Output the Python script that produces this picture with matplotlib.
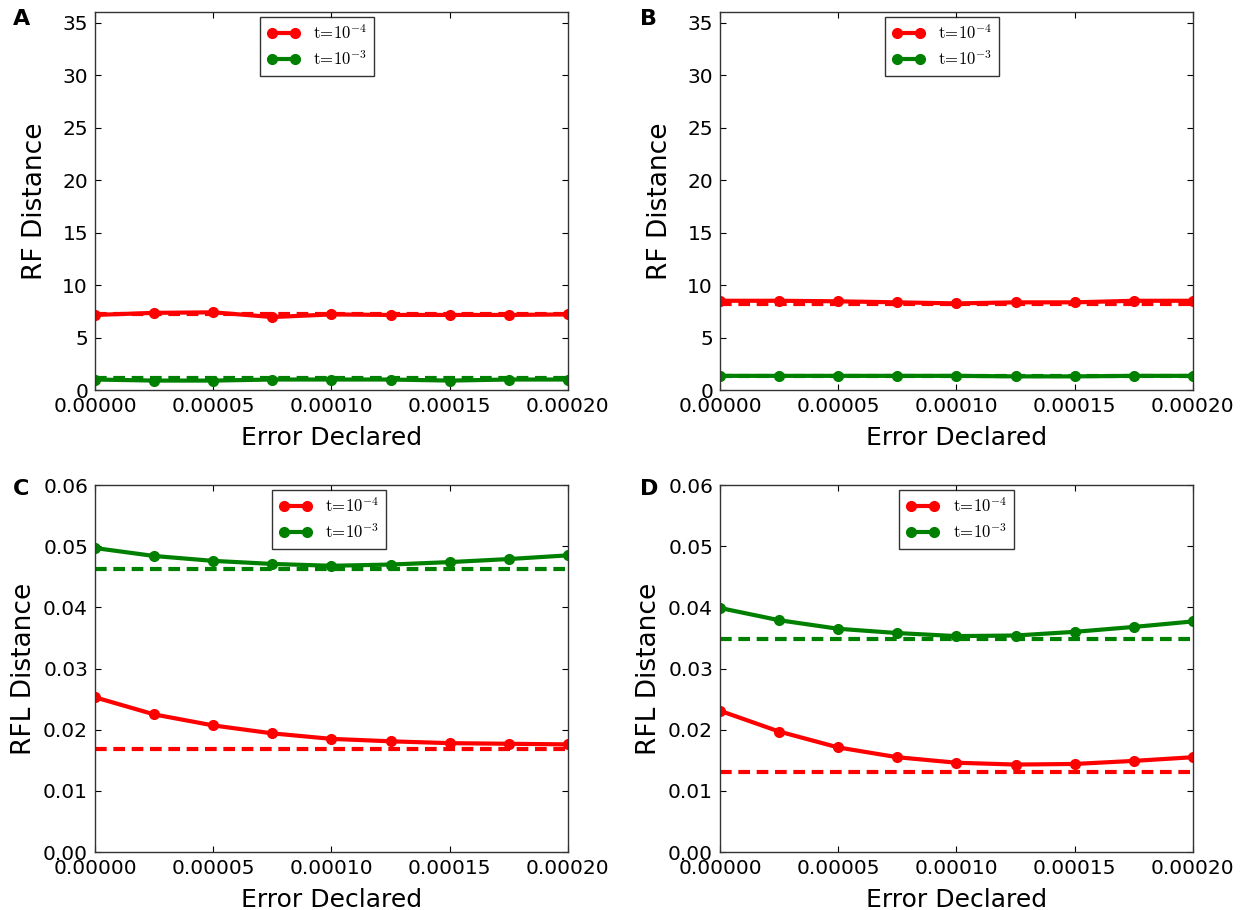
#! /usr/bin/env python3
import matplotlib as mpl
import matplotlib.pyplot as plt
from matplotlib.ticker import FormatStrFormatter

mpl.rcParams.update({
    'font.family': 'DejaVu Sans',
    'mathtext.fontset': 'cm',
    'xtick.direction': 'in',
    'ytick.direction': 'in',
    'xtick.top': True,
    'ytick.right': True,
    'xtick.major.size': 4,
    'ytick.major.size': 4,
    'xtick.labelsize': 14.5,
    'ytick.labelsize': 14.5,
    'axes.labelsize': 18,
    'axes.linewidth': 1.0,
    'axes.edgecolor': '#333333',
    'legend.fancybox': False,
    'legend.numpoints': 2,
    'legend.fontsize': 12,
})

# declared error (x axis), shared by all panels
errors = [0, 0.000025, 0.00005, 0.000075, 0.0001, 0.000125, 0.00015, 0.000175, 0.0002]

# A: RF distance
rf_a_t4 = [7.15, 7.35, 7.4, 6.95, 7.2, 7.15, 7.15, 7.15, 7.2]
rf_a_t3 = [1.0, 0.9, 0.9, 1.0, 1.0, 1.0, 0.9, 1.0, 1.0]
rf_a_base = [7.2, 1.1]

# B: RF distance
rf_b_t4 = [8.5, 8.5, 8.45, 8.35, 8.25, 8.35, 8.35, 8.5, 8.5]
rf_b_t3 = [1.35, 1.35, 1.35, 1.35, 1.35, 1.3, 1.3, 1.35, 1.35]
rf_b_base = [8.15, 1.3]

# C: RFL distance
rfl_c_t4 = [0.0253, 0.0225, 0.0207, 0.0194, 0.0185, 0.0181, 0.0178, 0.0177, 0.0176]
rfl_c_t3 = [0.0497, 0.0484, 0.0476, 0.0471, 0.0468, 0.0470, 0.0474, 0.0479, 0.0485]
rfl_c_base = [0.0169, 0.0462]

# D: RFL distance
rfl_d_t4 = [0.0231, 0.0197, 0.0171, 0.0155, 0.0146, 0.0143, 0.0144, 0.0149, 0.0155]
rfl_d_t3 = [0.0399, 0.0379, 0.0365, 0.0358, 0.0353, 0.0354, 0.0360, 0.0368, 0.0377]
rfl_d_base = [0.0131, 0.0349]

labels = [r'$\mathrm{t\!=\!10^{-4}}$', r'$\mathrm{t\!=\!10^{-3}}$']
colors = ['r', 'g']


def draw(ax, t4, t3, base, ylabel, rf, leg_x):
    for vals, col, lab in zip([t4, t3], colors, labels):
        ax.plot(errors, vals, '-o', color=col, lw=3, ms=7, mec=col, label=lab)
    for b, col in zip(base, colors):
        ax.axhline(b, color=col, lw=3, ls=(0, (2.8, 1.6)))
    ax.set_xlim(0, 0.0002)
    ax.set_xticks([0, 0.00005, 0.0001, 0.00015, 0.0002])
    ax.xaxis.set_major_formatter(FormatStrFormatter('%.5f'))
    if rf:
        ax.set_ylim(0, 36)
        ax.set_yticks(range(0, 36, 5))
        ax.set_ylabel(ylabel, fontsize=19, labelpad=10)
    else:
        ax.set_ylim(0, 0.06)
        ax.set_yticks([0, 0.01, 0.02, 0.03, 0.04, 0.05, 0.06])
        ax.yaxis.set_major_formatter(FormatStrFormatter('%.2f'))
        ax.set_ylabel(ylabel, fontsize=19, labelpad=4)
    ax.set_xlabel('Error Declared', labelpad=7)
    ax.tick_params(pad=5)
    leg = ax.legend(loc='upper center', bbox_to_anchor=(leg_x, 1.0),
                    handlelength=2.0, borderpad=0.4, labelspacing=0.45,
                    borderaxespad=0.3)
    leg.get_frame().set_edgecolor('black')
    leg.get_frame().set_linewidth(1.0)


fig = plt.figure(figsize=(12.43, 9.10), dpi=100)
ax_a = fig.add_axes([0.0764, 0.5714, 0.3805, 0.4154])
ax_b = fig.add_axes([0.5792, 0.5714, 0.3805, 0.4154])
ax_c = fig.add_axes([0.0764, 0.0637, 0.3805, 0.4033])
ax_d = fig.add_axes([0.5792, 0.0637, 0.3805, 0.4033])

draw(ax_a, rf_a_t4, rf_a_t3, rf_a_base, 'RF Distance', True, 0.47)
draw(ax_b, rf_b_t4, rf_b_t3, rf_b_base, 'RF Distance', True, 0.47)
draw(ax_c, rfl_c_t4, rfl_c_t3, rfl_c_base, 'RFL Distance', False, 0.495)
draw(ax_d, rfl_d_t4, rfl_d_t3, rfl_d_base, 'RFL Distance', False, 0.50)

for letter, x, y in [('A', 0.010, 0.979), ('B', 0.515, 0.979),
                     ('C', 0.010, 0.463), ('D', 0.515, 0.463)]:
    fig.text(x, y, letter, fontsize=16, fontweight='bold', va='center')

fig.savefig('out.png', dpi=100, facecolor='white')
